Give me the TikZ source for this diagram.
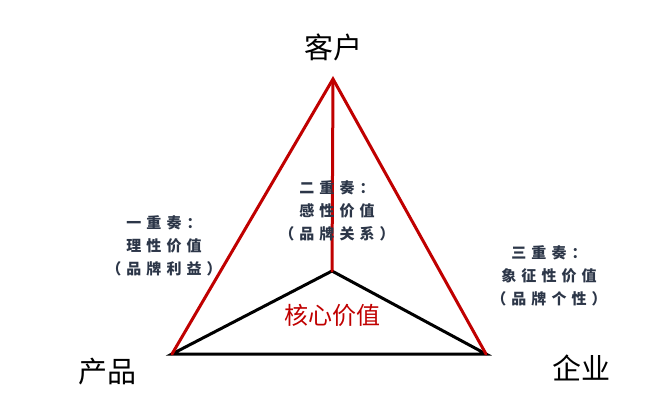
\documentclass[tikz,border=0pt]{standalone}
\usepackage{fontspec}
\setmainfont{Noto Sans CJK SC}
\newfontfamily\spaced[LetterSpace=34]{Noto Sans CJK SC}
\usepackage{tikz}
\usetikzlibrary{calc}
\definecolor{darkred}{RGB}{192,0,0}
\definecolor{slate}{RGB}{44,54,72}

\begin{document}
\begin{tikzpicture}[x=1pt,y=-1pt,
    redline/.style={darkred,line width=3pt,line cap=round},
    blackline/.style={black,line width=3pt,line cap=round},
    corner/.style={font=\fontsize{29}{34}\selectfont},
    note/.style={font=\spaced\bfseries\fontsize{15}{23}\selectfont,text=slate,align=center}]
\useasboundingbox (0,0) rectangle (664,413);
    % Draw the corners
    \coordinate (a_1) at (333,79);
    \coordinate (a_2) at (172,354);
    \coordinate (a_3) at (486,354);
    \coordinate (c) at (332,271);
    % Draw the inner triangle
    \draw[blackline] (a_2) -- (c) -- (a_3) -- cycle;
    % Draw the outer lines
    \draw[redline] (a_2) -- (a_1) -- (a_3);
    \draw[redline] (a_1) -- (c);
    % Labels
    \node[corner] (kehu) at (333,47) {客户};
    \node[corner] (chanpin) at (107,372) {产品};
    \node[corner] (qiye) at (581,368) {企业};
    \node[font=\fontsize{24}{28}\selectfont,text=darkred] (core) at (332,315) {核心价值};
    \node[note] (one) at (164,246) {一重奏：\\理性价值\\（品牌利益）};
    \node[note] (two) at (337,211) {二重奏：\\感性价值\\（品牌关系）};
    \node[note] (three) at (549,276) {三重奏：\\象征性价值\\（品牌个性）};
\end{tikzpicture}
\end{document}
